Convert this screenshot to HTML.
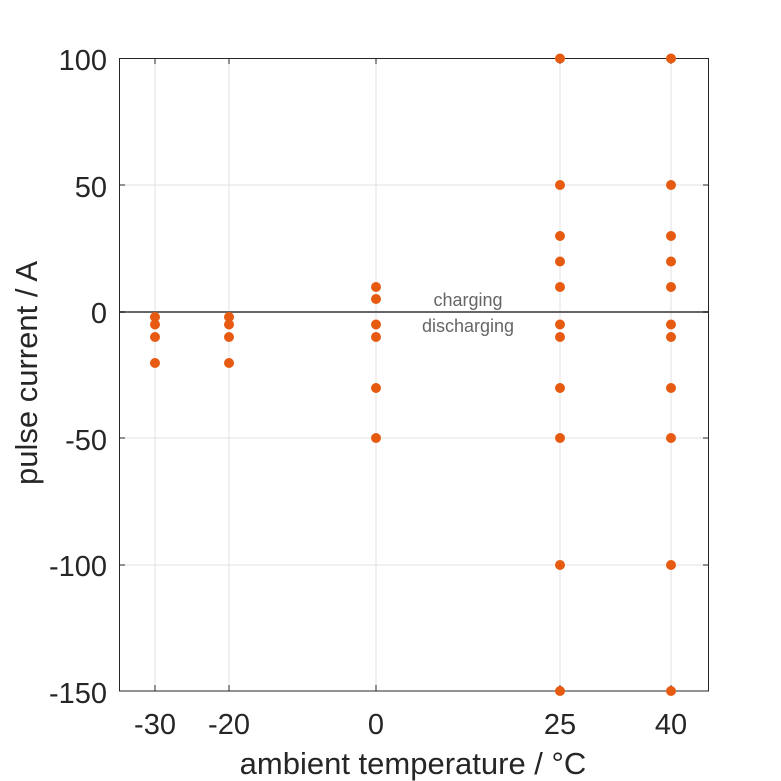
<!DOCTYPE html>
<html><head><meta charset="utf-8"><style>body{margin:0;background:#fff}svg{display:block}</style></head>
<body>
<svg width="781" height="781" viewBox="0 0 781 781" xmlns="http://www.w3.org/2000/svg" font-family="Liberation Sans, Arial, sans-serif">
<rect width="781" height="781" fill="#fff"/>
<g stroke="#e0e0e0" stroke-width="1">
<line x1="155" y1="58" x2="155" y2="691"/><line x1="229" y1="58" x2="229" y2="691"/>
<line x1="376" y1="58" x2="376" y2="691"/><line x1="560" y1="58" x2="560" y2="691"/>
<line x1="671" y1="58" x2="671" y2="691"/>
<line x1="119" y1="58.5" x2="709" y2="58.5"/><line x1="119" y1="185" x2="709" y2="185"/>
<line x1="119" y1="438" x2="709" y2="438"/><line x1="119" y1="565" x2="709" y2="565"/>
</g>
<line x1="119" y1="312" x2="709" y2="312" stroke="#666" stroke-width="2"/>
<rect x="119.5" y="58.5" width="589" height="632.5" fill="none" stroke="#262626" stroke-width="1"/>
<g stroke="#262626" stroke-width="1">
<line x1="155" y1="691" x2="155" y2="685"/><line x1="229" y1="691" x2="229" y2="685"/><line x1="376" y1="691" x2="376" y2="685"/><line x1="560" y1="691" x2="560" y2="685"/><line x1="671" y1="691" x2="671" y2="685"/>
<line x1="155" y1="58" x2="155" y2="64"/><line x1="229" y1="58" x2="229" y2="64"/><line x1="376" y1="58" x2="376" y2="64"/><line x1="560" y1="58" x2="560" y2="64"/><line x1="671" y1="58" x2="671" y2="64"/>
<line x1="119" y1="185" x2="125" y2="185"/><line x1="119" y1="312" x2="125" y2="312"/><line x1="119" y1="438" x2="125" y2="438"/><line x1="119" y1="565" x2="125" y2="565"/>
<line x1="709" y1="185" x2="703" y2="185"/><line x1="709" y1="312" x2="703" y2="312"/><line x1="709" y1="438" x2="703" y2="438"/><line x1="709" y1="565" x2="703" y2="565"/>
</g>
<g font-size="29" fill="#262626" text-anchor="end">
<text x="107" y="70">100</text><text x="107" y="197">50</text><text x="107" y="323">0</text>
<text x="107" y="450">-50</text><text x="107" y="576">-100</text><text x="107" y="703">-150</text>
</g>
<g font-size="29" fill="#262626" text-anchor="middle">
<text x="155" y="734">-30</text><text x="229" y="734">-20</text><text x="376" y="734">0</text>
<text x="560" y="734">25</text><text x="671" y="734">40</text>
</g>
<g font-size="31" fill="#262626" text-anchor="middle">
<text x="413" y="774">ambient temperature / °C</text>
<text transform="translate(37,373) rotate(-90)">pulse current / A</text>
</g>
<g font-size="18" fill="#666" text-anchor="middle">
<text x="468" y="306">charging</text><text x="468" y="332">discharging</text>
</g>
<g fill="#e65a12">
<circle cx="155" cy="317" r="5"/><circle cx="155" cy="324.5" r="5"/><circle cx="155" cy="337" r="5"/><circle cx="155" cy="363" r="5"/>
<circle cx="229" cy="317" r="5"/><circle cx="229" cy="324.5" r="5"/><circle cx="229" cy="337" r="5"/><circle cx="229" cy="363" r="5"/>
<circle cx="376" cy="287" r="5"/><circle cx="376" cy="299" r="5"/><circle cx="376" cy="324.5" r="5"/><circle cx="376" cy="337" r="5"/><circle cx="376" cy="388" r="5"/><circle cx="376" cy="438" r="5"/>
<circle cx="560" cy="58.5" r="5"/><circle cx="560" cy="185" r="5"/><circle cx="560" cy="236" r="5"/><circle cx="560" cy="261.5" r="5"/><circle cx="560" cy="287" r="5"/><circle cx="560" cy="324.5" r="5"/><circle cx="560" cy="337" r="5"/><circle cx="560" cy="388" r="5"/><circle cx="560" cy="438" r="5"/><circle cx="560" cy="565" r="5"/><circle cx="560" cy="691" r="5"/>
<circle cx="671" cy="58.5" r="5"/><circle cx="671" cy="185" r="5"/><circle cx="671" cy="236" r="5"/><circle cx="671" cy="261.5" r="5"/><circle cx="671" cy="287" r="5"/><circle cx="671" cy="324.5" r="5"/><circle cx="671" cy="337" r="5"/><circle cx="671" cy="388" r="5"/><circle cx="671" cy="438" r="5"/><circle cx="671" cy="565" r="5"/><circle cx="671" cy="691" r="5"/>
</g>
</svg>
</body></html>
